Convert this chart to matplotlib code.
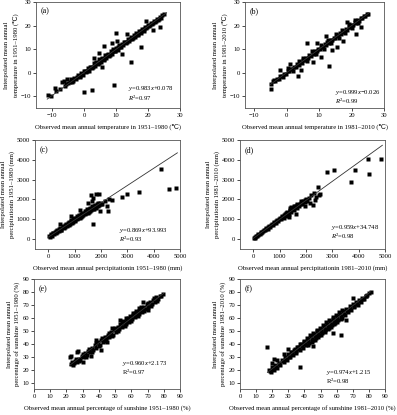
import numpy as np
import matplotlib
matplotlib.use("Agg")
import matplotlib.pyplot as plt

plt.rcParams.update({
    "font.family": ["Liberation Serif", "DejaVu Serif"],
    "font.size": 4.8,
    "mathtext.fontset": "custom",
    "mathtext.rm": "Liberation Serif",
    "mathtext.it": "Liberation Serif:italic",
    "axes.linewidth": 0.6,
    "axes.edgecolor": "#555555",
    "xtick.major.size": 2,
    "ytick.major.size": 2,
    "xtick.major.width": 0.5,
    "ytick.major.width": 0.5,
    "xtick.major.pad": 1.5,
    "ytick.major.pad": 1.5,
})

# (observed, interpolated) station values
temp_1951 = [
    (-11.3, -9.6), (-10.2, -10.0), (-9.1, -6.4), (-8.6, -7.6), (-7.4, -6.9), (-6.3, -3.4), (-6.0, -5.8),
    (-5.6, -5.0), (-4.9, -4.3), (-4.2, -2.6), (-3.6, -3.9), (-3.1, -2.4), (-2.5, -2.7), (-1.9, -1.2),
    (-1.4, -1.9), (-0.8, -0.3), (-0.3, -1.0), (0.2, 0.9), (0.7, 0.1), (1.2, 1.8), (1.6, 0.9), (2.1, 2.6),
    (2.6, 1.8), (3.0, 3.9), (3.5, 2.9), (3.9, 4.6), (4.4, 3.7), (4.8, 5.9), (5.3, 4.6), (5.7, 6.4),
    (6.1, 5.2), (6.6, 7.3), (7.0, 6.2), (7.4, 8.1), (7.9, 7.1), (8.3, 9.0), (8.8, 8.0), (9.2, 9.9),
    (9.6, 9.0), (10.1, 10.6), (10.5, 9.7), (11.0, 11.6), (11.4, 10.7), (11.9, 12.3), (12.3, 11.6),
    (12.8, 13.2), (13.2, 12.4), (13.7, 14.1), (14.1, 13.3), (14.6, 15.0), (15.0, 14.2), (15.5, 15.8),
    (15.9, 15.2), (16.4, 16.7), (16.8, 15.9), (17.3, 17.5), (17.7, 16.9), (18.2, 18.4), (18.6, 17.9),
    (19.1, 19.3), (19.5, 18.8), (20.0, 20.1), (20.4, 19.7), (20.9, 21.0), (21.3, 20.6), (21.8, 21.9),
    (22.2, 21.5), (22.7, 22.6), (23.1, 22.4), (23.6, 23.5), (24.0, 23.4), (24.5, 24.3), (25.0, 24.8),
    (-4.5, -4.0), (-3.3, -3.6), (-2.2, -1.7), (-1.1, -1.5), (0.0, 0.5), (1.0, 0.6), (1.9, 2.3), (2.8, 2.4),
    (3.7, 4.1), (4.6, 4.2), (5.5, 5.9), (6.4, 6.0), (7.2, 7.6), (8.1, 7.7), (9.0, 9.4), (9.8, 9.3),
    (10.7, 11.1), (11.6, 11.0), (12.5, 12.9), (13.4, 12.9), (14.3, 14.5), (15.2, 14.7), (16.1, 16.2),
    (17.0, 16.6), (17.9, 17.5), (18.8, 18.6), (19.7, 19.2), (20.6, 20.3), (21.5, 21.0), (22.4, 22.1),
    (23.3, 22.8),
    (2.6, -7.3), (9.4, -5.2), (0.0, -8.4), (-5.2, -2.5), (3.2, 6.4), (4.8, 8.3), (9.9, 16.9), (6.2, 11.5),
    (8.6, 12.6), (12.0, 8.0), (14.8, 4.6), (17.7, 10.9), (23.7, 19.3), (19.5, 21.9), (21.5, 18.2),
    (10.3, 13.6), (-7.0, -4.0), (5.5, 2.5), (13.5, 16.5),
]

temp_1981 = [
    (-4.9, -5.0), (-4.8, -7.0), (-4.2, -3.5), (-3.9, -3.3), (-3.5, -3.7), (-3.0, -2.8), (-2.4, -2.6),
    (-1.9, -1.6), (-1.3, -1.6), (-0.8, -0.5), (-0.3, -0.6), (0.3, 0.6), (0.8, 0.5), (1.3, 1.6), (1.8, 1.5),
    (2.3, 2.6), (2.8, 2.4), (3.3, 3.6), (3.7, 3.4), (4.2, 4.5), (4.7, 4.3), (5.2, 5.5), (5.6, 5.3),
    (6.1, 6.4), (6.6, 6.2), (7.0, 7.4), (7.5, 7.1), (8.0, 8.3), (8.4, 8.1), (8.9, 9.3), (9.4, 9.0),
    (9.8, 10.1), (10.3, 10.0), (10.8, 11.1), (11.2, 10.9), (11.7, 12.1), (12.2, 11.8), (12.6, 13.0),
    (13.1, 12.7), (13.6, 13.9), (14.0, 13.7), (14.5, 14.9), (15.0, 14.6), (15.4, 15.8), (15.9, 15.5),
    (16.4, 16.8), (16.8, 16.4), (17.3, 17.6), (17.7, 17.4), (18.2, 18.6), (18.7, 18.3), (19.1, 19.5),
    (19.6, 19.2), (20.1, 20.4), (20.5, 20.2), (21.0, 21.3), (21.5, 21.1), (21.9, 22.2), (22.4, 22.1),
    (22.9, 23.1), (23.3, 23.0), (23.8, 24.0), (24.3, 24.1), (24.8, 24.9), (25.1, 25.0),
    (5.0, 6.2), (6.3, 5.1), (7.8, 9.0), (9.0, 7.8), (10.5, 11.9), (11.5, 10.2), (12.8, 14.0), (13.8, 12.5),
    (15.2, 16.3), (16.0, 14.8), (17.0, 18.1), (18.0, 16.8), (19.3, 20.5), (20.0, 18.9), (21.2, 22.4),
    (22.0, 20.9), (3.8, 5.1), (2.0, 0.9), (0.5, 1.8), (-1.0, -2.0),
    (3.6, -1.5), (13.0, 3.0), (21.5, 16.3), (6.2, 12.5), (15.5, 11.0), (8.0, 4.5), (10.5, 6.8),
    (17.5, 13.5), (12.0, 15.5), (18.5, 21.5), (4.5, 1.2), (-2.0, 1.0), (1.0, 3.5), (9.5, 12.5),
    (14.0, 9.5), (23.0, 19.5),
]

prec_1951 = [
    (30, 140), (60, 110), (100, 230), (140, 180), (180, 290), (220, 250), (260, 370), (300, 310),
    (350, 450), (400, 400), (450, 540), (500, 470), (550, 630), (600, 560), (650, 720), (700, 640),
    (750, 810), (800, 730), (850, 900), (900, 810), (950, 990), (1000, 900), (1050, 1080), (1100, 990),
    (1150, 1170), (1200, 1070), (1250, 1260), (1300, 1160), (1350, 1340), (1400, 1250), (1450, 1430),
    (1500, 1330), (1550, 1510), (1600, 1420), (1650, 1590), (1700, 1500), (1750, 1670), (1800, 1590),
    (1850, 1750), (1900, 1680), (1950, 1820), (2000, 1760),
    (120, 260), (200, 330), (280, 420), (330, 360), (420, 510), (480, 440), (560, 660), (620, 590),
    (680, 770), (730, 690), (780, 880), (830, 780), (880, 970), (930, 860), (980, 1060), (1030, 950),
    (1080, 1150), (1130, 1040), (1180, 1240), (1230, 1120), (1280, 1330), (1330, 1220), (1380, 1420),
    (1430, 1300), (1480, 1500), (1530, 1390), (1580, 1580), (1630, 1470), (1680, 1660), (1720, 1540),
    (1780, 1740), (1830, 1630), (1880, 1830), (1930, 1720),
    (450, 780), (850, 1180), (1200, 1480), (1500, 1800), (1650, 1900), (1700, 2050),
    (4290, 3530), (4600, 2550), (4850, 2580), (3440, 2370), (2975, 2250), (2790, 2115), (2410, 1980),
    (2225, 1690), (2250, 1430), (1700, 775), (1625, 2240), (1825, 2290), (1910, 2290), (1975, 1430),
    (2040, 1770), (2150, 1900), (2300, 2000),
]

prec_1981 = [
    (30, 80), (60, 70), (100, 160), (150, 150), (200, 260), (250, 250), (300, 360), (350, 340),
    (400, 460), (450, 440), (500, 560), (550, 530), (600, 660), (650, 620), (700, 760), (750, 720),
    (800, 860), (850, 810), (900, 960), (950, 900), (1000, 1060), (1050, 990), (1100, 1160), (1150, 1080),
    (1200, 1260), (1250, 1180), (1300, 1360), (1350, 1280), (1400, 1460), (1450, 1370), (1500, 1560),
    (1550, 1460), (1600, 1650), (1650, 1560), (1700, 1740), (1750, 1650), (1800, 1830), (1850, 1760),
    (1900, 1920), (1950, 1850), (2000, 2000), (2050, 1940), (2100, 2060),
    (80, 120), (180, 200), (280, 300), (380, 410), (480, 500), (580, 590), (680, 700), (780, 790),
    (880, 890), (980, 1000), (1080, 1120), (1180, 1220), (1280, 1330), (1380, 1420), (1480, 1520),
    (1580, 1620), (1680, 1700), (1780, 1790), (1880, 1880), (1980, 1960), (1250, 1340), (1400, 1550),
    (1550, 1680), (1650, 1780), (1800, 1940), (1450, 1620),
    (2810, 3390), (3060, 3510), (3880, 3510), (3720, 2900), (4400, 3270), (4350, 4050), (4850, 4050),
    (2460, 2620), (2500, 2240), (2285, 1710), (1625, 1250), (2400, 2100), (2550, 2300), (2200, 2200),
    (2300, 2350), (2350, 1950), (1950, 1650), (2150, 1800), (1350, 1100),
]

sun_1951 = [
    (22.5, 24.0), (23.5, 25.5), (24.5, 24.8), (25.5, 27.0), (26.5, 26.0), (27.5, 28.5), (28.5, 27.6),
    (29.5, 30.4), (30.5, 29.5), (31.5, 32.8), (32.5, 31.5), (33.5, 34.6), (34.5, 33.4), (35.5, 36.9),
    (36.5, 35.5), (37.5, 38.8), (38.5, 37.0), (39.5, 41.0), (40.5, 39.3), (41.5, 42.9), (42.5, 41.0),
    (43.5, 45.0), (44.5, 43.0), (45.5, 46.9), (46.5, 45.0), (47.5, 48.8), (48.5, 47.0), (49.5, 50.9),
    (50.5, 49.0), (51.5, 52.8), (52.5, 51.0), (53.5, 54.8), (54.5, 52.9), (55.5, 56.7), (56.5, 55.0),
    (57.5, 58.7), (58.5, 56.8), (59.5, 60.8), (60.5, 58.9), (61.5, 62.6), (62.5, 60.7), (63.5, 64.6),
    (64.5, 62.6), (65.5, 66.6), (66.5, 64.6), (67.5, 68.5), (68.5, 66.6), (69.5, 70.4), (70.5, 68.6),
    (71.5, 72.3), (72.5, 70.6), (73.5, 74.0), (74.5, 72.4), (75.5, 75.8), (76.5, 74.4), (77.5, 77.0),
    (78.5, 76.8), (79.5, 78.4),
    (24.0, 23.2), (26.0, 28.2), (28.0, 26.5), (30.0, 32.0), (32.0, 30.0), (34.0, 36.2), (36.0, 33.8),
    (38.0, 40.3), (40.0, 38.0), (42.0, 44.5), (44.0, 41.8), (46.0, 48.3), (48.0, 45.9), (50.0, 52.3),
    (52.0, 49.8), (54.0, 56.3), (56.0, 53.6), (58.0, 60.2), (60.0, 57.6), (62.0, 64.0), (64.0, 61.5),
    (66.0, 68.0), (68.0, 65.3), (70.0, 71.8), (72.0, 69.4), (74.0, 75.0), (76.0, 73.3), (59.0, 61.5),
    (61.0, 63.5), (63.0, 65.5), (65.0, 67.8), (57.0, 59.8), (55.0, 57.8), (53.0, 55.6), (60.8, 62.0),
    (62.8, 62.5), (58.8, 59.0), (64.8, 65.5), (66.8, 67.0), (56.8, 57.0), (50.8, 51.5), (45.0, 45.2),
    (47.0, 47.6), (43.0, 43.1),
    (22.3, 29.5), (23.0, 30.2), (26.5, 33.5), (27.2, 34.7), (30.0, 25.5), (35.0, 30.5), (38.5, 42.5),
    (41.0, 35.5), (48.0, 52.0), (53.0, 58.0), (45.0, 41.0), (67.0, 72.0), (70.0, 66.0),
]

sun_1981 = [
    (18, 19.5), (19, 18.0), (20, 22.0), (21, 19.8), (22, 23.5), (23, 21.6), (24, 25.0), (25, 23.5),
    (26, 27.3), (27, 25.6), (28, 29.4), (29, 27.5), (30, 31.8), (31, 29.4), (32, 33.8), (33, 31.2),
    (34, 35.8), (35, 33.0), (36, 37.8), (37, 35.0), (38, 39.8), (39, 37.0), (40, 41.9), (41, 38.8),
    (42, 43.8), (43, 40.8), (44, 45.8), (45, 42.8), (46, 47.8), (47, 44.7), (48, 49.7), (49, 46.7),
    (50, 51.7), (51, 48.6), (52, 53.6), (53, 50.5), (54, 55.5), (55, 52.5), (56, 57.5), (57, 54.4),
    (58, 59.4), (59, 56.3), (60, 61.3), (61, 58.3), (62, 63.2), (63, 60.2), (64, 65.1), (65, 62.1),
    (66, 67.0), (67, 64.2), (68, 68.8), (69, 66.3), (70, 70.5), (71, 68.4), (72, 72.3), (73, 70.2),
    (74, 74.0), (75, 72.3), (76, 75.6), (77, 74.3), (78, 77.0), (79, 77.5), (80, 79.2), (81, 80.0),
    (18.5, 18.8), (20.5, 20.6), (22.5, 22.0), (24.5, 24.4), (26.5, 26.3), (28.5, 28.3), (30.5, 30.1),
    (32.5, 32.2), (34.5, 34.0), (36.5, 36.0), (38.5, 37.9), (40.5, 39.9), (42.5, 41.9), (44.5, 43.9),
    (46.5, 45.8), (48.5, 47.8), (50.5, 49.6), (52.5, 51.6), (54.5, 53.5), (56.5, 55.4), (58.5, 57.3),
    (60.5, 59.3), (62.5, 61.2), (64.5, 63.2), (66.5, 65.1), (68.5, 67.0), (70.5, 69.0), (72.5, 70.9),
    (74.5, 72.9), (76.5, 74.7), (78.5, 76.6),
    (41.5, 44.5), (43.5, 46.5), (45.5, 48.5), (47.5, 50.5), (49.5, 52.5), (51.5, 54.5), (53.5, 56.5),
    (55.5, 58.5), (57.5, 60.5), (59.5, 62.3), (61.5, 64.2), (63.5, 66.0), (42.5, 39.0), (44.5, 41.0),
    (46.5, 43.0), (48.5, 45.0), (50.5, 47.0), (52.5, 49.0), (54.5, 51.0), (56.5, 53.0), (58.5, 55.0),
    (60.5, 57.0), (62.5, 59.0), (35.5, 37.5), (37.5, 39.5), (39.5, 41.5), (31.5, 33.3), (33.5, 35.2),
    (16.5, 37.4), (37.5, 21.8), (62.6, 47.0), (21.0, 28.3), (27.6, 32.2), (20.0, 25.0), (23.0, 27.5),
    (58.0, 48.0), (45.0, 38.0), (30.0, 36.0), (70.0, 75.0), (66.0, 58.0),
]

# fitted lines as printed in each panel: slope, intercept, R2, x-range of the drawn line
fit_slope = [0.983, 0.999, 0.869, 0.959, 0.960, 0.974]
fit_icpt = [0.078, -0.026, 93.993, 34.748, 2.173, 1.215]
fit_r2 = [0.97, 0.99, 0.93, 0.98, 0.97, 0.98]
fit_xmin = [-11.5, -5.0, 0, 0, 22, 17]
fit_xmax = [25.8, 25.3, 4900, 4900, 80, 81]

panel_tags = ["(a)", "(b)", "(c)", "(d)", "(e)", "(f)"]
x_labels = [
    "Observed mean annual temperature in 1951–1980 (℃)",
    "Observed mean annual temperature in 1981–2010 (℃)",
    "Observed mean annual percipitationin 1951–1980 (mm)",
    "Observed mean annual percipitationin 1981–2010 (mm)",
    "Observed mean annual percentage of sunshine 1951–1980 (%)",
    "Observed mean annual percentage of sunshine 1981–2010 (%)",
]
y_labels = [
    "Interpolated mean annual\ntemperature in 1951–1980 (℃)",
    "Interpolated mean annual\ntemperature in 1981–2010 (℃)",
    "Interpolated mean annual\npercipitationin 1951–1980 (mm)",
    "Interpolated mean annual\npercipitationin 1981–2010 (mm)",
    "Interpolated mean annual\npercentage of sunshine 1951–1980 (%)",
    "Interpolated mean annual\npercentage of sunshine 1981–2010 (%)",
]
temp_ticks = [-10, 0, 10, 20, 30]
prec_ticks = [0, 1000, 2000, 3000, 4000, 5000]
sun_xticks = [0, 10, 20, 30, 40, 50, 60, 70, 80, 90]
sun_yticks = [10, 20, 30, 40, 50, 60, 70, 80, 90]

W, H = 397, 415
fig = plt.figure(figsize=(W / 100, H / 100), dpi=100)

# axes boxes in pixels: left, top, right, bottom
boxes = [(36, 2, 180, 108), (245, 2, 384, 108),
         (35, 140, 180, 249), (240, 140, 385, 249),
         (34, 279, 180, 389), (240, 279, 385, 389)]
limits = [((-15, 30), (-15, 30)), ((-12.8, 30), (-15, 30)),
          ((-500, 5000), (-500, 5000)), ((-500, 5000), (-500, 5000)),
          ((0, 90), (5, 90)), ((0, 90), (5, 90))]
ticks = [(temp_ticks, temp_ticks), (temp_ticks, temp_ticks),
         (prec_ticks, prec_ticks), (prec_ticks, prec_ticks),
         (sun_xticks, sun_yticks), (sun_xticks, sun_yticks)]
# equation anchor (x, y of first line) in axes fractions; the R2 line sits 9 px lower
eq_pos = [(0.64, 0.18), (0.65, 0.15), (0.58, 0.17),
          (0.63, 0.20), (0.60, 0.23), (0.59, 0.15)]
datasets = [temp_1951, temp_1981, prec_1951, prec_1981, sun_1951, sun_1981]

for i, pts in enumerate(datasets):
    l, t, r, b = boxes[i]
    ax = fig.add_axes([l / W, 1 - b / H, (r - l) / W, (b - t) / H])
    pts = np.array(pts, dtype=float)
    ax.plot(pts[:, 0], pts[:, 1], "s", ms=2.5, mec="none", color="black")

    xl = np.array([fit_xmin[i], fit_xmax[i]])
    ax.plot(xl, fit_slope[i] * xl + fit_icpt[i], color="#333333", lw=0.6)

    ax.set_xlim(*limits[i][0])
    ax.set_ylim(*limits[i][1])
    ax.set_xticks(ticks[i][0])
    ax.set_yticks(ticks[i][1])
    ax.set_xlabel(x_labels[i], labelpad=4.5)
    ax.set_ylabel(y_labels[i], labelpad=1.5, linespacing=1.6)
    ax.text(0.03, 0.91, panel_tags[i], transform=ax.transAxes, va="center", fontsize=5.8)

    sign = "+" if fit_icpt[i] >= 0 else "−"
    eq = r"$y$=%.3f$x$%s%.3f" % (fit_slope[i], sign, abs(fit_icpt[i]))
    r2 = (r"$R$$^2$=%.2f" if i < 4 else r"R$^2$=%.2f") % fit_r2[i]
    ex, ey = eq_pos[i]
    gap = 9.0 / (b - t)
    ax.text(ex, ey, eq, transform=ax.transAxes, va="center", fontsize=4.8)
    ax.text(ex, ey - gap, r2, transform=ax.transAxes, va="center", fontsize=4.8)

fig.savefig("out.png", dpi=100)
